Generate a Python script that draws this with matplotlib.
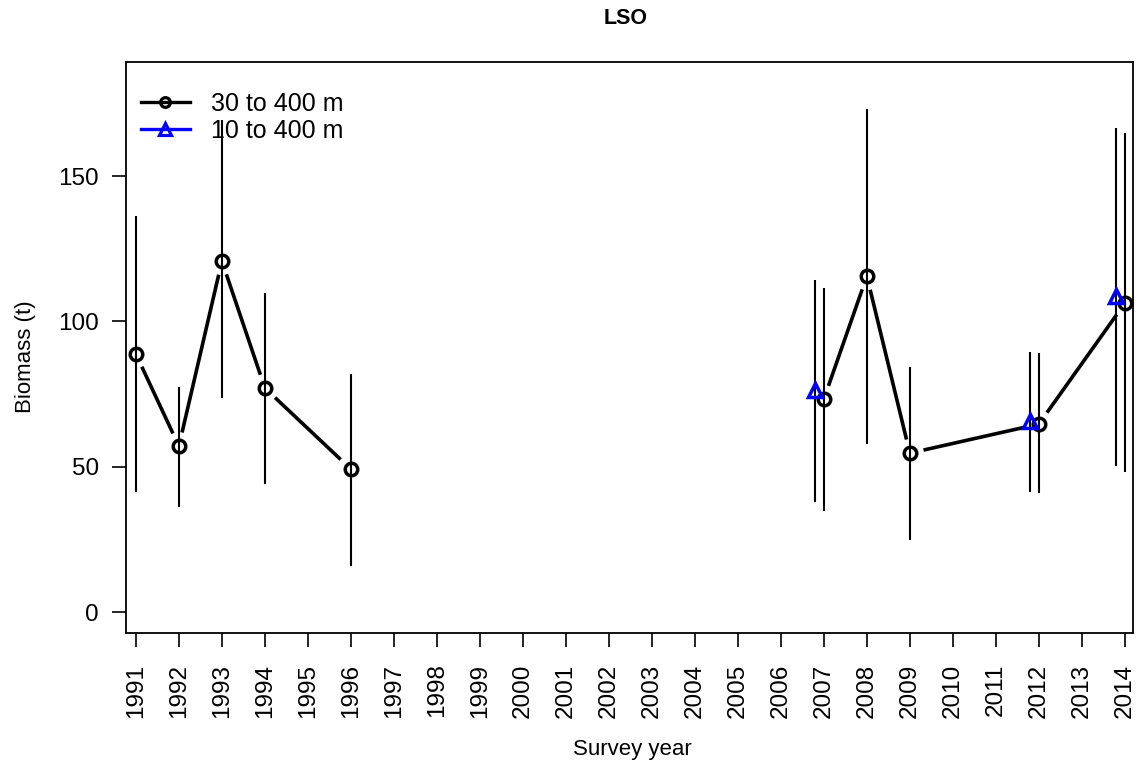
import numpy as np
import matplotlib
matplotlib.use("Agg")
import matplotlib.pyplot as plt

plt.rcParams['font.family'] = ['Liberation Sans', 'DejaVu Sans']

# 30 to 400 m survey (black circles)
years_a = [1991, 1992, 1993, 1994, 1996, 2007, 2008, 2009, 2012, 2014]
biomass_a = [88.8, 57.1, 120.8, 77.1, 49.2, 73.3, 115.6, 54.7, 64.7, 106.3]
lo_a = [41.3, 36.1, 73.6, 44.0, 15.8, 34.8, 57.8, 24.8, 41.0, 48.2]
hi_a = [136.3, 77.4, 169.3, 109.8, 81.9, 111.5, 173.1, 84.3, 89.1, 164.8]
# groups of connected points (break between 1996 and 2007)
groups_a = [[0, 1, 2, 3, 4], [5, 6, 7, 8, 9]]

# 10 to 400 m survey (blue triangles), drawn slightly left of the year
years_b = [2007, 2012, 2014]
biomass_b = [76.4, 65.7, 108.7]
lo_b = [37.9, 41.3, 50.2]
hi_b = [114.2, 89.5, 166.6]

tick_years = list(range(1991, 2015))

W, H = 1139, 767
fig = plt.figure(figsize=(W / 100, H / 100), dpi=100)
ax = fig.add_axes([126 / W, 1 - 633 / H, (1133 - 126) / W, (633 - 62) / H])
ax.set_xlim(1990.77, 2014.19)
ax.set_ylim(-7.2, 189.3)

# lines with gaps round the points, like R type="b"
gap = 14
for g in groups_a:
    pts = ax.transData.transform(np.column_stack([np.array(years_a)[g], np.array(biomass_a)[g]]))
    for p, q in zip(pts[:-1], pts[1:]):
        d = q - p
        L = np.hypot(*d)
        if L <= 2 * gap:
            continue
        u = d / L
        s = ax.transData.inverted().transform([p + u * gap, q - u * gap])
        ax.plot(s[:, 0], s[:, 1], color='black', lw=2.6, solid_capstyle='butt')

ax.vlines(years_a, lo_a, hi_a, color='black', lw=1.5)
xb = np.array(years_b) - 0.2
ax.vlines(xb, lo_b, hi_b, color='black', lw=1.5)

ax.plot(years_a, biomass_a, 'o', ms=9, mfc='none', mec='black', mew=2.5, zorder=3)
ax.plot(xb, biomass_b, '^', ms=10, mfc='none', mec='#0000ff', mew=2.5, zorder=3)

# legend handles
h1, = ax.plot([], [], '-o', color='black', lw=2.4, ms=7, mfc='none', mew=2.3)
h2, = ax.plot([], [], '-^', color='#0000ff', lw=2.4, ms=8, mfc='none', mew=2.3)
ax.legend([h1, h2], ['30 to 400 m', '10 to 400 m'], loc='upper left', frameon=False,
          fontsize=18, handlelength=1.95, handletextpad=0.85, labelspacing=0.12,
          borderpad=0, borderaxespad=0,
          bbox_to_anchor=(141 / W, 1 - 92 / H), bbox_transform=fig.transFigure)

ax.set_xticks(tick_years)
ax.set_xticklabels([str(y) for y in tick_years], rotation=90, fontsize=17.5)
ax.set_yticks([0, 50, 100, 150])
ax.set_yticklabels(['0', '50', '100', '150'], fontsize=17.5)
ax.tick_params(axis='both', length=10, width=1.2)
ax.tick_params(axis='y', pad=9.5)
ax.tick_params(axis='x', pad=12)
for sp in ax.spines.values():
    sp.set_linewidth(1.3)

fig.text(632 / W, 1 - 749 / H, 'Survey year', ha='center', va='center', fontsize=16)
fig.text(25 / W, 1 - 357 / H, 'Biomass (t)', ha='center', va='center', fontsize=16, rotation=90)
fig.text(626 / W, 1 - 19 / H, 'LSO', ha='center', va='center', fontsize=15.5, fontweight='bold')

fig.savefig('out.png', dpi=100)
